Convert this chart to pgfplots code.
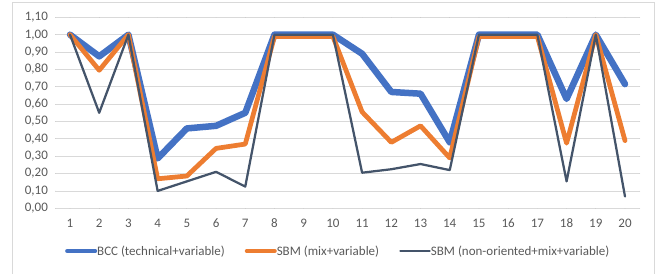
\documentclass[border=0pt]{standalone}
\usepackage{pgfplots}
\pgfplotsset{compat=1.18}
\usepackage{fontspec}
\setmainfont{Carlito}
\definecolor{cblue}{HTML}{4472C4}
\definecolor{corange}{HTML}{ED7D31}
\definecolor{cdark}{HTML}{44546A}
\definecolor{cgrid}{HTML}{D9D9D9}
\definecolor{ctext}{HTML}{595959}
\begin{document}
\begin{tikzpicture}[x=1pt,y=1pt]
\useasboundingbox (0,0) rectangle (660,273);
\draw[cgrid, line width=0.9pt] (12.5,-5) -- (12.5,270.5) -- (654.5,270.5) -- (654.5,-5);
\begin{axis}[
  at={(55.4pt,64.7pt)}, anchor=south west,
  scale only axis, width=584.2pt, height=191pt,
  xmin=0.5, xmax=20.5, ymin=0, ymax=1.1,
  xtick={1,...,20},
  ytick={0,0.1,...,1.1},
  axis line style={draw=none},
  major tick length=0pt,
  ymajorgrids, grid style={cgrid, line width=0.8pt},
  tick label style={font=\fontsize{13}{15}\selectfont, text=ctext},
  /pgf/number format/assume math mode=true,
  yticklabel style={xshift=-4pt, /pgf/number format/fixed, /pgf/number format/fixed zerofill, /pgf/number format/precision=2, /pgf/number format/use comma},
  xticklabel style={yshift=-7pt},
  legend columns=3,
  legend style={at={(0.0164,-0.2236)}, anchor=west, draw=none, fill=none,
    inner xsep=0pt,
    nodes={inner xsep=0pt, inner ysep=1pt},
    font=\fontsize{13}{15}\selectfont, text=ctext,
    /tikz/every even column/.append style={column sep=20pt}},
  legend cell align=left,
  line join=round, line cap=round,
]
\addplot[cblue, line width=6.5pt, legend image code/.code={\draw[cblue, line width=4pt, line cap=round] (2pt,0pt) -- (30pt,0pt);}] coordinates {
(1,1.00) (2,0.875) (3,1.00) (4,0.287) (5,0.46) (6,0.475) (7,0.55) (8,1.00) (9,1.00) (10,1.00)
(11,0.89) (12,0.67) (13,0.66) (14,0.38) (15,1.00) (16,1.00) (17,1.00) (18,0.63) (19,1.00) (20,0.715)};
\addlegendentry{BCC (technical+variable)}
\addplot[corange, line width=4.75pt, legend image code/.code={\draw[corange, line width=4pt, line cap=round] (2pt,0pt) -- (30pt,0pt);}] coordinates {
(1,1.00) (2,0.795) (3,1.00) (4,0.17) (5,0.186) (6,0.345) (7,0.37) (8,0.99) (9,0.99) (10,0.99)
(11,0.555) (12,0.38) (13,0.475) (14,0.29) (15,0.99) (16,0.99) (17,0.99) (18,0.375) (19,1.00) (20,0.39)};
\addlegendentry{SBM (mix+variable)}
\addplot[cdark, line width=2.25pt, legend image code/.code={\draw[cdark, line width=2.75pt, line cap=round] (1.5pt,0pt) -- (30.5pt,0pt);}] coordinates {
(1,1.00) (2,0.55) (3,1.00) (4,0.10) (5,0.155) (6,0.21) (7,0.125) (8,1.00) (9,1.00) (10,1.00)
(11,0.205) (12,0.225) (13,0.255) (14,0.22) (15,1.00) (16,1.00) (17,1.00) (18,0.155) (19,1.00) (20,0.068)};
\addlegendentry{SBM (non-oriented+mix+variable)}
\end{axis}
\end{tikzpicture}
\end{document}
